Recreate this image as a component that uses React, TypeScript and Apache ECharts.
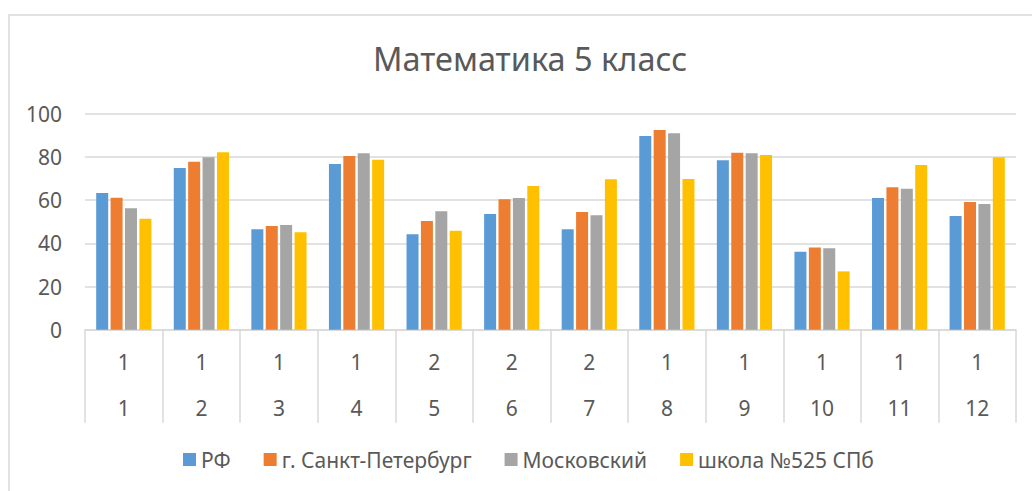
import React, { useEffect, useRef } from "react";
import * as echarts from "echarts";

const outerLabels = ["1", "1", "1", "1", "2", "2", "2", "1", "1", "1", "1", "1"];
const innerLabels = ["1", "2", "3", "4", "5", "6", "7", "8", "9", "10", "11", "12"];
const seriesNames = ["РФ", "г. Санкт-Петербург", "Московский", "школа №525 СПб"];
const rfValues = [63.3, 74.9, 46.5, 76.7, 44.2, 53.6, 46.5, 89.7, 78.4, 36.1, 61.0, 52.6];
const spbValues = [61.1, 77.8, 48.0, 80.4, 50.3, 60.4, 54.5, 92.5, 81.9, 38.0, 65.9, 59.1];
const moskValues = [56.2, 79.8, 48.5, 81.7, 54.8, 61.0, 53.0, 90.9, 81.7, 37.7, 65.3, 58.2];
const schoolValues = [51.4, 82.1, 45.1, 78.7, 45.8, 66.5, 69.6, 69.8, 80.9, 27.0, 76.3, 79.8];
const yTicks = { min: 0, max: 100, interval: 20 };
const colors = ["#5B9BD5", "#ED7D31", "#A5A5A5", "#FFC000"];

const FONT = "Noto Sans";
const TEXT = "#595959";
const LINE = "#d9d9d9";

export default function App() {
  const ref = useRef<HTMLDivElement>(null);
  useEffect(() => {
    if (!ref.current) return;
    const chart = echarts.init(ref.current, undefined, { renderer: "svg" });
    const allValues = [rfValues, spbValues, moskValues, schoolValues];
    const categories = innerLabels.map((_, i) => String(i));
    chart.setOption({
      animation: false,
      backgroundColor: "#ffffff",
      textStyle: { fontFamily: FONT },
      title: {
        text: "Математика 5 класс",
        left: 368,
        top: 37,
        textStyle: { fontFamily: FONT, fontSize: 32.5, fontWeight: "normal", color: TEXT },
      },
      graphic: [
        {
          type: "rect",
          shape: { x: 9, y: 15, width: 1100, height: 600 },
          style: { fill: "none", stroke: LINE, lineWidth: 1.5 },
          silent: true,
        },
      ],
      legend: {
        left: 178,
        top: 444,
        itemWidth: 13,
        itemHeight: 13,
        itemGap: 33,
        icon: "rect",
        textStyle: { fontFamily: FONT, fontSize: 21, color: TEXT },
        data: seriesNames,
      },
      grid: { left: 85, right: 16, top: 113.7, bottom: 161.3, containLabel: false },
      xAxis: {
        type: "category",
        data: categories,
        axisLine: { show: true, lineStyle: { color: LINE, width: 1.5 } },
        axisTick: {
          show: true,
          interval: 0,
          alignWithLabel: false,
          length: 93,
          lineStyle: { color: LINE, width: 1.5 },
        },
        axisLabel: {
          interval: 0,
          margin: 9,
          fontFamily: FONT,
          fontSize: 21,
          color: TEXT,
          lineHeight: 46,
          formatter: (v: string) => {
            const i = Number(v);
            return outerLabels[i] + "\n" + innerLabels[i];
          },
        },
      },
      yAxis: {
        type: "value",
        min: yTicks.min,
        max: yTicks.max,
        interval: yTicks.interval,
        axisLine: { show: false },
        axisTick: { show: false },
        axisLabel: { margin: 23, fontFamily: FONT, fontSize: 21, color: TEXT },
        splitLine: { lineStyle: { color: LINE, width: 1.5 } },
      },
      series: seriesNames.map((name, k) => ({
        name,
        type: "bar",
        data: allValues[k],
        barWidth: 12,
        barGap: "20%",
        itemStyle: { color: colors[k] },
      })),
    });
    return () => chart.dispose();
  }, []);
  return (
    <div
      ref={ref}
      style={{ position: "fixed", left: 0, top: 0, width: 1032, height: 491, background: "#fff" }}
    />
  );
}
